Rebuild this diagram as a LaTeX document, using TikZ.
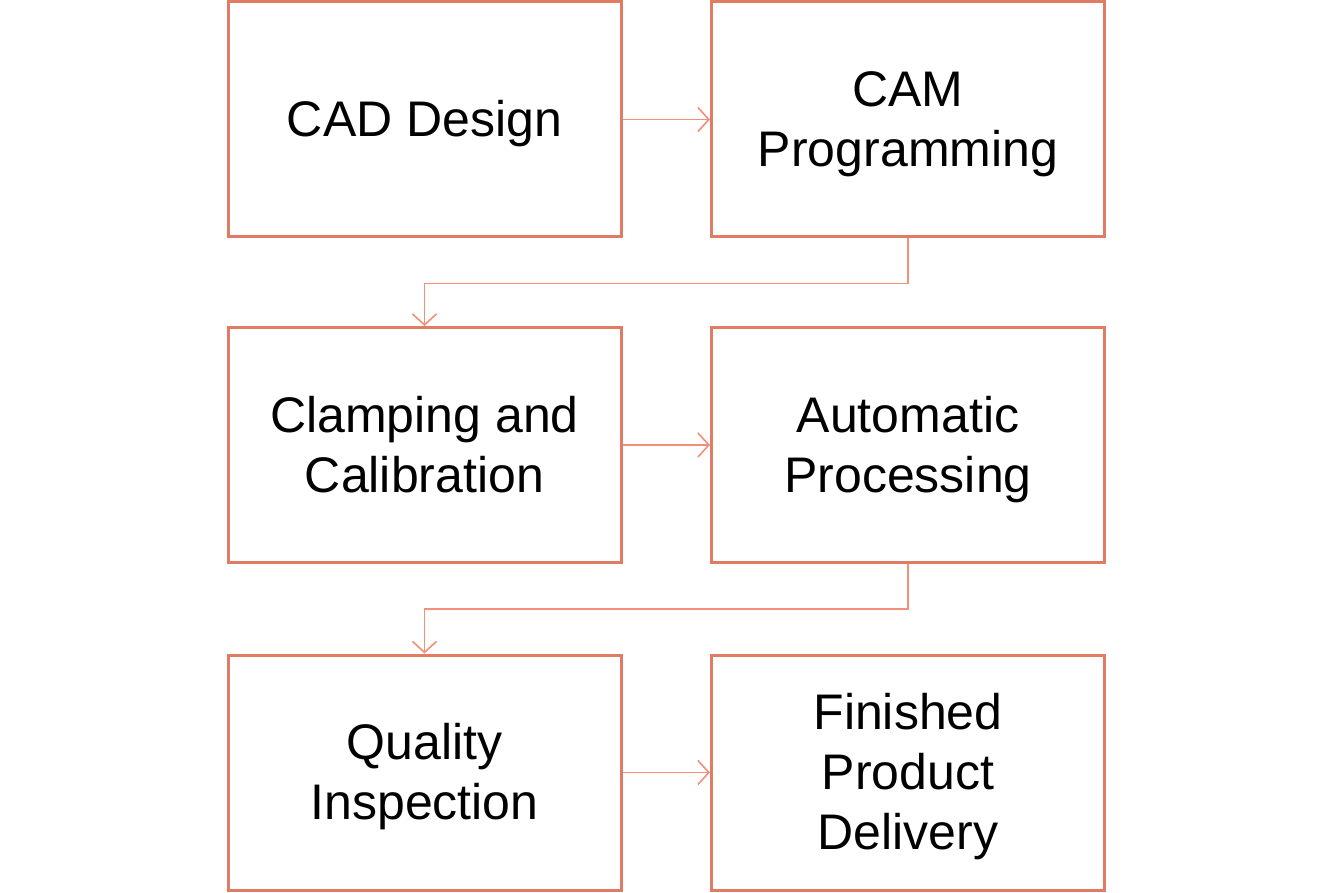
\documentclass[tikz,border=0pt]{standalone}
\usepackage{fontspec}
\setmainfont{Liberation Sans}
\usetikzlibrary{arrows.meta}
\definecolor{boxc}{HTML}{E07B64}
\definecolor{arrc}{HTML}{F2907A}
\newcommand{\ppstrut}{\rule{0pt}{45.25pt}}
\begin{document}
\begin{tikzpicture}[x=1pt,y=-1pt,
  box/.style={draw=boxc, line width=3pt, minimum width=393pt, minimum height=235pt,
    align=center, inner sep=0pt, text depth=10.6pt, font=\fontsize{50}{60}\selectfont, text=black},
  conn/.style={draw=arrc, line width=1.6pt, -{Straight Barb[length=11pt,width=24pt,line width=1.6pt]}}]
\useasboundingbox (0,0) rectangle (1334,893);
\node[box] (a) at (424.5,119.5) {\ppstrut CAD Design};
\node[box] (b) at (908,119.5) {\ppstrut CAM\\Programming};
\node[box] (c) at (424.5,445) {\ppstrut Clamping and\\Calibration};
\node[box] (d) at (908,445) {\ppstrut Automatic\\Processing};
\node[box] (e) at (424.5,772.5) {\ppstrut Quality\\Inspection};
\node[box] (f) at (908,772.5) {\ppstrut Finished\\Product\\Delivery};
\draw[conn] (a.east) -- (b.west);
\draw[conn] (c.east) -- (d.west);
\draw[conn] (e.east) -- (f.west);
\draw[conn] (b.south) -- ++(0,45) -| (c.north);
\draw[conn] (d.south) -- ++(0,45) -| (e.north);
\end{tikzpicture}
\end{document}
